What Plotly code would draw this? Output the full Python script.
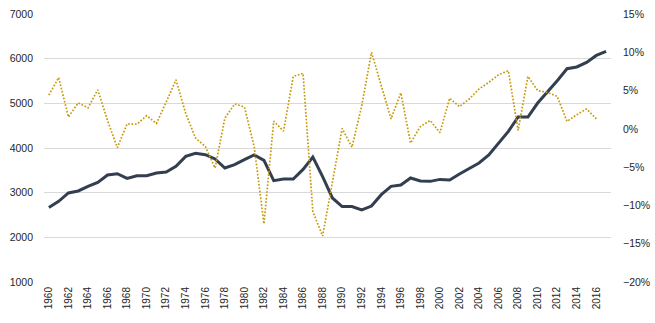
import plotly.graph_objects as go

years = list(range(1960, 2018))
level = [2670, 2805, 2993, 3038, 3141, 3230, 3396, 3425, 3320, 3380,
         3380, 3440, 3463, 3590, 3812, 3880, 3850, 3754, 3552, 3626,
         3738, 3843, 3723, 3268, 3306, 3306, 3520, 3799, 3360, 2881,
         2690, 2690, 2615, 2700, 2955, 3141, 3172, 3329, 3260, 3253,
         3297, 3283, 3418, 3537, 3664, 3843, 4097, 4372, 4694, 4694,
         5007, 5245, 5507, 5775, 5814, 5917, 6073, 6163]
growth_years = list(range(1960, 2017))
growth = [4.4, 6.7, 1.55, 3.4, 2.75, 5.1, 1.1, -2.45, 0.65, 0.6,
          1.72, 0.7, 3.5, 6.4, 2.0, -1.2, -2.3, -5.1, 1.4, 3.25,
          2.86, -2.3, -12.4, 1.0, -0.3, 6.85, 7.25, -10.8, -14.0, -7.1,
          0.05, -2.4, 3.0, 10.0, 5.6, 1.3, 4.7, -1.85, 0.3, 1.1,
          -0.5, 4.0, 2.9, 3.9, 5.2, 6.07, 7.07, 7.6, -0.2, 6.85,
          5.0, 4.76, 4.24, 0.97, 1.85, 2.6, 1.3]
growth_frac = [g / 100 for g in growth]
tick_years = list(range(1960, 2018, 2))

fig = go.Figure()
fig.add_trace(go.Scatter(x=years, y=level, mode="lines",
                         line=dict(color="#333F50", width=3),
                         showlegend=False, yaxis="y"))
fig.add_trace(go.Scatter(x=growth_years, y=growth_frac, mode="lines",
                         line=dict(color="#C69A0A", width=1.7, dash="1.7px,1.7px"),
                         showlegend=False, yaxis="y2"))

tick_font = dict(family="Liberation Sans", size=10.5, color="#262626")
fig.update_layout(
    width=655, height=323,
    margin=dict(l=44, r=44, t=14, b=41),
    paper_bgcolor="white", plot_bgcolor="white",
    xaxis=dict(range=[1959.5, 2017.5], tickmode="array",
               tickvals=tick_years, ticktext=[str(y) for y in tick_years],
               tickangle=-90, showgrid=False, zeroline=False,
               showline=False, ticks="", automargin=False,
               ticklabelstandoff=2,
               tickfont=dict(family="Liberation Sans", size=10, color="#262626")),
    yaxis=dict(range=[1000, 7000], dtick=1000, showgrid=True,
               gridcolor="#D9D9D9", gridwidth=1, zeroline=False,
               showline=False, ticks="", tickfont=tick_font,
               automargin=False, ticklabelstandoff=10),
    yaxis2=dict(range=[-0.20, 0.15], dtick=0.05, tickformat=".0%",
                overlaying="y", side="right", showgrid=False,
                zeroline=False, showline=False, ticks="",
                automargin=False, tickfont=tick_font, ticklabelstandoff=11),
)

fig.write_html("out.html")
